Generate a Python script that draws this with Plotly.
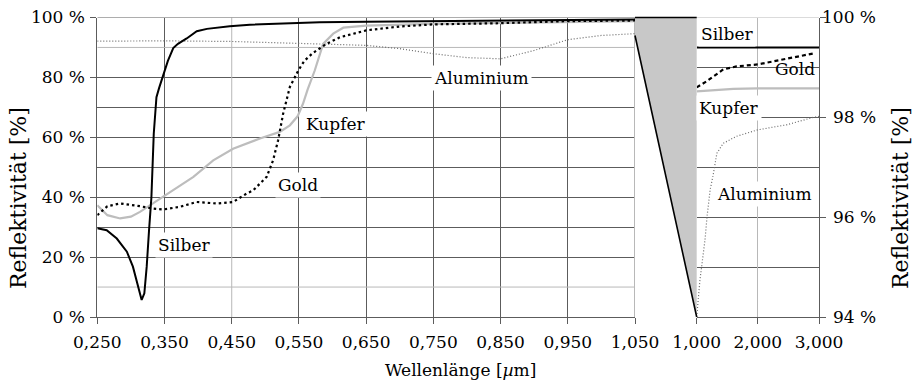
import plotly.graph_objects as go

# ---- reflectance data (wavelength in µm, reflectivity in %) ----
# main panel: 0.25 ... 1.05 µm, 0 ... 100 %
silber_x = [0.250, 0.264, 0.279, 0.294, 0.303, 0.311, 0.316, 0.320, 0.3235, 0.327,
            0.3305, 0.334, 0.338, 0.342, 0.348, 0.355, 0.363, 0.370, 0.383, 0.398,
            0.413, 0.447, 0.477, 0.581, 0.650, 0.750, 0.850, 0.950, 1.050]
silber_y = [29.6, 29.0, 26.2, 21.8, 16.8, 10.1, 5.7, 7.9, 16.8, 29.0,
            40.0, 61.2, 73.4, 76.5, 81.0, 85.5, 89.8, 91.2, 93.0, 95.4,
            96.2, 97.1, 97.6, 98.4, 98.6, 98.8, 99.0, 99.2, 99.3]

kupfer_x = [0.250, 0.265, 0.284, 0.300, 0.3135, 0.330, 0.348, 0.370, 0.393, 0.4225,
            0.452, 0.492, 0.5215, 0.5365, 0.548, 0.556, 0.563, 0.5735, 0.586, 0.601,
            0.616, 0.650, 0.750, 0.850, 0.950, 1.050]
kupfer_y = [37.3, 34.0, 32.9, 33.5, 35.1, 37.5, 40.1, 43.5, 46.8, 52.3,
            56.2, 59.6, 61.8, 64.0, 67.0, 71.2, 76.0, 82.3, 91.2, 94.6,
            96.6, 97.3, 97.9, 98.2, 98.5, 98.8]

gold_x = [0.250, 0.265, 0.284, 0.300, 0.3135, 0.330, 0.348, 0.373, 0.398, 0.4275,
          0.452, 0.472, 0.482, 0.502, 0.5115, 0.519, 0.5265, 0.5365, 0.549, 0.558,
          0.570, 0.591, 0.611, 0.650, 0.700, 0.750, 0.850, 0.950, 1.050]
gold_y = [34.0, 37.0, 37.9, 37.5, 37.0, 36.3, 35.9, 36.8, 38.4, 37.9,
          38.4, 41.2, 42.3, 46.8, 52.3, 59.0, 67.9, 76.8, 82.3, 85.5,
          88.0, 91.2, 93.4, 95.7, 97.0, 97.7, 98.1, 98.8, 99.0]

alu_x = [0.250, 0.350, 0.450, 0.550, 0.650, 0.700, 0.750, 0.800, 0.825, 0.850,
         0.900, 0.950, 1.000, 1.050]
alu_y = [92.1, 92.2, 92.0, 91.4, 90.7, 89.6, 87.9, 86.6, 86.3, 86.2,
         89.0, 92.6, 94.0, 94.6]

# zoomed panel: 1 ... 3 µm, 94 ... 100 %
silber_r_x = [1.0, 3.0]
silber_r_y = [99.4, 99.4]
gold_r_x = [1.0, 1.16, 1.435, 1.65, 2.0, 2.47, 2.91]
gold_r_y = [98.6, 98.72, 98.96, 99.02, 99.06, 99.18, 99.28]
kupfer_r_x = [1.0, 1.3, 1.6, 2.0, 2.5, 3.0]
kupfer_r_y = [98.52, 98.54, 98.57, 98.58, 98.58, 98.58]
alu_r_x = [1.0, 1.03, 1.054, 1.08, 1.136, 1.17, 1.22, 1.27, 1.33, 1.435,
           1.65, 2.0, 2.47, 2.91, 3.0]
alu_r_y = [94.0, 94.48, 94.75, 95.0, 95.55, 96.02, 96.55, 96.85, 97.28, 97.48,
           97.62, 97.75, 97.85, 98.0, 98.02]

# ---- axis ticks ----
x_ticks = [0.25, 0.35, 0.45, 0.55, 0.65, 0.75, 0.85, 0.95, 1.05]
x_ticktext = ["0,250", "0,350", "0,450", "0,550", "0,650", "0,750", "0,850", "0,950", "1,050"]
y_ticks = [0, 20, 40, 60, 80, 100]
y_ticktext = ["0 %", "20 %", "40 %", "60 %", "80 %", "100 %"]
x2_ticks = [1, 2, 3]
x2_ticktext = ["1,000", "2,000", "3,000"]
y3_ticks = [94, 96, 98, 100]
y3_ticktext = ["94 %", "96 %", "98 %", "100 %"]

# grid lines
x_grid_dark = [0.35, 0.55, 0.65, 0.75, 0.85, 0.95]
x_grid_light = [0.45]
y_grid_dark = [20, 30, 40, 50, 60, 70, 80]
y_grid_light = [10, 90]
y3_grid = [95, 96, 97, 98, 99]

# curve labels: (text, x, y, anchor)
labels_left = [("Silber", 0.3365, 24.0, "left"), ("Gold", 0.548, 44.0, "center"),
               ("Kupfer", 0.6057, 64.6, "center"), ("Aluminium", 0.821, 79.9, "center")]
labels_right = [("Silber", 1.49, 99.66, True), ("Gold", 2.61, 98.96, False),
                ("Kupfer", 1.53, 98.19, True), ("Aluminium", 2.11, 96.47, True)]

W, H = 913, 383
X1 = (97.3 / W, 635.0 / W)
X2 = (696.7 / W, 819.0 / W)
YD = ((H - 317.0) / H, (H - 17.5) / H)

FONT = "DejaVu Serif"
FS = 17
DARK = "#5c5c5c"
LIGHT = "#b8b8b8"
tickfont = dict(family=FONT, size=FS, color="black")

fig = go.Figure()


def add_line(x, y, color, width, dash, xa, ya):
    fig.add_trace(go.Scatter(x=x, y=y, mode="lines",
                             line=dict(color=color, width=width, dash=dash),
                             xaxis=xa, yaxis=ya, hoverinfo="skip", showlegend=False))


# main panel
add_line(alu_x, alu_y, "#6a6a6a", 1.2, "1px,2px", "x", "y")
add_line(kupfer_x, kupfer_y, "#bdbdbd", 2.2, "solid", "x", "y")
add_line(gold_x, gold_y, "black", 2.2, "2.5px,3px", "x", "y")
add_line(silber_x, silber_y, "black", 2.0, "solid", "x", "y")
# zoomed panel
add_line(alu_r_x, alu_r_y, "#6a6a6a", 1.2, "1px,2px", "x2", "y3")
add_line(kupfer_r_x, kupfer_r_y, "#bdbdbd", 2.2, "solid", "x2", "y3")
add_line(gold_r_x, gold_r_y, "black", 2.2, "4px,3px", "x2", "y3")
add_line(silber_r_x, silber_r_y, "black", 2.0, "solid", "x2", "y3")

fig.update_layout(
    width=W, height=H,
    margin=dict(l=0, r=0, t=0, b=0, pad=0),
    paper_bgcolor="white", plot_bgcolor="white",
    font=dict(family=FONT, size=FS, color="black"),
    xaxis=dict(domain=X1, range=[0.25, 1.05], anchor="y", tickmode="array",
               tickvals=x_ticks, ticktext=x_ticktext, ticks="outside", ticklen=6,
               tickcolor=DARK, showline=True, linecolor=DARK, linewidth=1,
               showgrid=False, zeroline=False, tickfont=tickfont, automargin=False,
               ticklabelstandoff=4,
               minor=dict(tickmode="array", tickvals=x_grid_dark, showgrid=True,
                          gridcolor=DARK, gridwidth=1, ticks="")),
    yaxis=dict(domain=YD, range=[0, 100], anchor="x", tickmode="array",
               tickvals=y_ticks, ticktext=y_ticktext, ticks="outside", ticklen=6,
               tickcolor=DARK, showline=True, linecolor=DARK, linewidth=1,
               showgrid=False, zeroline=False, tickfont=tickfont, automargin=False,
               ticklabelstandoff=2,
               minor=dict(tickmode="array", tickvals=y_grid_dark, showgrid=True,
                          gridcolor=DARK, gridwidth=1, ticks="")),
    xaxis2=dict(domain=X2, range=[1, 3], anchor="y3", tickmode="array",
                tickvals=x2_ticks, ticktext=x2_ticktext, ticks="outside", ticklen=6,
                tickcolor=DARK, showline=True, linecolor=DARK, linewidth=1,
                showgrid=True, gridcolor=LIGHT, gridwidth=1, zeroline=False,
                tickfont=tickfont, automargin=False, ticklabelstandoff=4),
    yaxis3=dict(domain=YD, range=[94, 100], anchor="x2", side="right",
                tickmode="array", tickvals=y3_ticks, ticks="outside", ticklen=6,
                tickcolor=DARK, showticklabels=False, showline=True, linecolor=DARK,
                linewidth=1, showgrid=False, zeroline=False, automargin=False,
                minor=dict(tickmode="array", tickvals=y3_grid, showgrid=True,
                           gridcolor=DARK, gridwidth=1, ticks="")),
    yaxis4=dict(domain=YD, range=[94, 100], anchor="x2", side="left", overlaying="y3",
                tickmode="array", tickvals=y3_ticks, ticks="outside", ticklen=6,
                tickcolor=DARK, showticklabels=False, showline=False, showgrid=False,
                zeroline=False, automargin=False),
)

shapes = []
# lighter grid lines of the main panel
for gx in x_grid_light:
    shapes.append(dict(type="line", xref="x", yref="y", x0=gx, x1=gx, y0=0, y1=100,
                       line=dict(color=LIGHT, width=1), layer="between"))
for gy in y_grid_light:
    shapes.append(dict(type="line", xref="x", yref="y", x0=0.25, x1=1.05, y0=gy, y1=gy,
                       line=dict(color=LIGHT, width=1), layer="between"))
# frame of the main panel: top and right edge
shapes.append(dict(type="line", xref="x", yref="y", x0=0.25, x1=1.05, y0=100, y1=100,
                   line=dict(color=DARK, width=1), layer="between"))
shapes.append(dict(type="line", xref="x", yref="y", x0=1.05, x1=1.05, y0=0, y1=100,
                   line=dict(color=LIGHT, width=2), layer="between"))
# top edge of the zoomed panel
shapes.append(dict(type="line", xref="x2", yref="y3", x0=1, x1=3, y0=100, y1=100,
                   line=dict(color=LIGHT, width=1), layer="between"))

# zoom wedge linking 94..100 % of the main panel to the zoomed panel
xl, xr = X1[1], X2[0]
yb, yt = YD
y94 = YD[0] + (YD[1] - YD[0]) * 94 / 100
shapes.append(dict(type="path", xref="paper", yref="paper",
                   path=f"M {xl},{y94} L {xl},{yt} L {xr},{yt} L {xr},{yb} Z",
                   fillcolor="#c8c8c8", line=dict(width=0), layer="above"))
shapes.append(dict(type="path", xref="paper", yref="paper",
                   path=f"M {xl},{y94} L {xr},{yb} M {xl},{yt} L {xr},{yt}",
                   line=dict(color="black", width=1.6), layer="above"))
fig.update_layout(shapes=shapes)

ann = []
for text, x, y, anchor in labels_left:
    ann.append(dict(text=text, x=x, y=y, xref="x", yref="y", showarrow=False,
                    xanchor=anchor, font=dict(family=FONT, size=FS, color="black"),
                    bgcolor="white", borderpad=2))
for text, x, y, bg in labels_right:
    ann.append(dict(text=text, x=x, y=y, xref="x2", yref="y3", showarrow=False,
                    font=dict(family=FONT, size=FS, color="black"),
                    bgcolor="white" if bg else "rgba(0,0,0,0)", borderpad=2))
# right-aligned tick labels of the zoomed panel
for v, t in zip(y3_ticks, y3_ticktext):
    ann.append(dict(text=t, x=878 / W, y=v, xref="paper", yref="y3", showarrow=False,
                    xanchor="right", yanchor="middle", font=tickfont))
# axis titles
ann.append(dict(text="Wellenlänge [<i>µ</i>m]", x=460 / W, y=(H - 370) / H,
                xref="paper", yref="paper", showarrow=False, xanchor="center",
                yanchor="middle", font=dict(family=FONT, size=FS, color="black")))
ann.append(dict(text="Reflektivität [%]", x=19 / W, y=(H - 198) / H, xref="paper",
                yref="paper", showarrow=False, textangle=-90, xanchor="center",
                yanchor="middle", font=dict(family=FONT, size=22, color="black")))
ann.append(dict(text="Reflektivität [%]", x=901 / W, y=(H - 198) / H, xref="paper",
                yref="paper", showarrow=False, textangle=-90, xanchor="center",
                yanchor="middle", font=dict(family=FONT, size=22, color="black")))
fig.update_layout(annotations=ann)

fig.write_html("out.html")
